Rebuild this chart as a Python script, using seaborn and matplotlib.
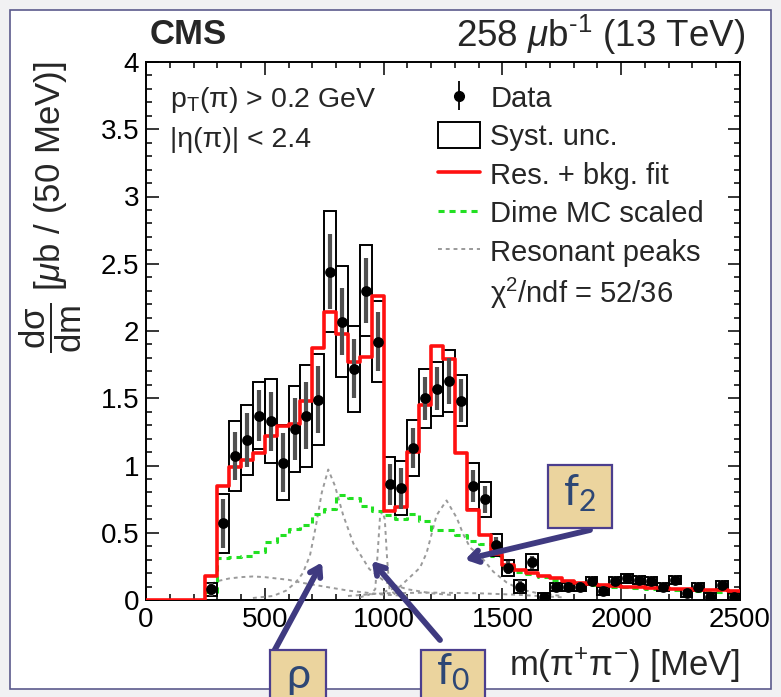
import numpy as np
import matplotlib
matplotlib.use("Agg")
import matplotlib.pyplot as plt
from matplotlib.patches import Rectangle, Patch
from matplotlib.lines import Line2D
import seaborn as sns

# ---- binning: 50 MeV bins from 250 to 2500 MeV ----
bin_low = 250
bin_width = 50
bin_high = 2500

# measured cross section per bin [ub / 50 MeV]
data_xsec = [0.08, 0.57, 1.07, 1.19, 1.37, 1.33, 1.02, 1.27, 1.37, 1.49,
             2.44, 2.07, 1.72, 2.30, 1.92, 0.86, 0.83, 1.13, 1.50, 1.57,
             1.63, 1.48, 0.85, 0.75, 0.41, 0.24, 0.10, 0.28, 0.02, 0.10,
             0.10, 0.10, 0.14, 0.07, 0.14, 0.16, 0.15, 0.14, 0.10, 0.15,
             0.05, 0.10, 0.02, 0.11, 0.02]
stat_err = [0.05, 0.18, 0.18, 0.20, 0.19, 0.22, 0.22, 0.23, 0.25, 0.25,
            0.28, 0.25, 0.22, 0.24, 0.22, 0.15, 0.15, 0.15, 0.16, 0.16,
            0.17, 0.16, 0.12, 0.10, 0.06, 0.05, 0.05, 0.05, 0.035, 0.035,
            0.035, 0.035, 0.035, 0.035, 0.035, 0.035, 0.035, 0.035, 0.035, 0.035,
            0.035, 0.035, 0.035, 0.035, 0.035]
syst_err = [0.05, 0.22, 0.26, 0.26, 0.25, 0.31, 0.28, 0.32, 0.38, 0.34,
            0.45, 0.41, 0.32, 0.34, 0.30, 0.20, 0.20, 0.21, 0.22, 0.20,
            0.23, 0.19, 0.17, 0.13, 0.08, 0.06, 0.05, 0.06, 0.03, 0.03,
            0.03, 0.03, 0.03, 0.03, 0.03, 0.03, 0.03, 0.03, 0.03, 0.03,
            0.03, 0.03, 0.03, 0.03, 0.03]

# resonances + background fit, per bin
fit_xsec = [0.18, 0.85, 0.99, 1.04, 1.09, 1.22, 1.29, 1.31, 1.48, 1.87,
            2.14, 1.98, 1.77, 1.81, 2.26, 0.66, 0.69, 1.10, 1.45, 1.89,
            1.79, 1.09, 0.67, 0.48, 0.34, 0.26, 0.22, 0.20, 0.18, 0.16,
            0.14, 0.13, 0.12, 0.11, 0.105, 0.10, 0.095, 0.09, 0.087, 0.084,
            0.08, 0.077, 0.074, 0.072, 0.07]

# Dime MC prediction (scaled), per bin
dime_xsec = [0.06, 0.31, 0.32, 0.33, 0.36, 0.43, 0.48, 0.53, 0.56, 0.64,
             0.68, 0.78, 0.76, 0.70, 0.66, 0.63, 0.60, 0.64, 0.59, 0.52,
             0.52, 0.48, 0.44, 0.42, 0.33, 0.25, 0.21, 0.19, 0.17, 0.15,
             0.14, 0.125, 0.115, 0.105, 0.10, 0.095, 0.09, 0.085, 0.08, 0.075,
             0.07, 0.066, 0.062, 0.058, 0.055]

# individual resonant line shapes
f0_500_mass = [275, 300, 350, 400, 450, 500, 550, 600, 650, 700, 750, 800, 850, 900, 950, 1000, 1050, 1100]
f0_500_xsec = [0.12, 0.14, 0.16, 0.17, 0.175, 0.17, 0.16, 0.15, 0.13, 0.115, 0.10, 0.085, 0.07, 0.06, 0.05, 0.04, 0.035, 0.03]
rho_mass = [450, 535, 590, 630, 660, 690, 715, 740, 767, 795, 830, 873, 940, 1010, 1100, 1200, 1300]
rho_xsec = [0.015, 0.03, 0.07, 0.13, 0.20, 0.33, 0.55, 0.80, 0.97, 0.85, 0.63, 0.42, 0.23, 0.13, 0.08, 0.05, 0.035]
f0_980_mass = [900, 940, 965, 975, 985, 995, 1005, 1015, 1025, 1050, 1100]
f0_980_xsec = [0.02, 0.04, 0.08, 0.35, 0.62, 0.66, 0.60, 0.30, 0.08, 0.04, 0.02]
f2_mass = [1000, 1069, 1111, 1153, 1181, 1202, 1223, 1265, 1308, 1335, 1364, 1406, 1462, 1518, 1574, 1650, 1750]
f2_xsec = [0.06, 0.10, 0.17, 0.24, 0.35, 0.49, 0.63, 0.74, 0.61, 0.49, 0.39, 0.33, 0.21, 0.13, 0.08, 0.05, 0.03]
f0_high_mass = [850, 1000, 1200, 1400, 1550, 1650, 1750]
f0_high_xsec = [0.03, 0.05, 0.055, 0.05, 0.04, 0.03, 0.02]

x_ticks = [0, 500, 1000, 1500, 2000, 2500]
x_ticklabels = ["0", "500", "1000", "1500", "2000", "2500"]
y_ticks = [0, 0.5, 1, 1.5, 2, 2.5, 3, 3.5, 4]
y_ticklabels = ["0", "0.5", "1", "1.5", "2", "2.5", "3", "3.5", "4"]

# ---- style ----
sns.set_theme(style="ticks")
plt.rcParams["font.family"] = ["Liberation Sans", "DejaVu Sans"]
plt.rcParams["mathtext.fontset"] = "custom"
plt.rcParams["mathtext.rm"] = "Liberation Sans"
plt.rcParams["mathtext.it"] = "Liberation Sans:italic"
plt.rcParams["mathtext.bf"] = "Liberation Sans:bold"

RED = "#ff1010"
GREEN = "#22e022"
GREY = "#9a9a9a"
NAVY = "#3f3a80"
TAN = "#ebd49e"

W, H = 781, 697
fig = plt.figure(figsize=(W / 100, H / 100), dpi=100)
fig.patch.set_facecolor("#f1f1f3")
fig.add_artist(Rectangle((10 / W, 8 / H), 761 / W, 679 / H, transform=fig.transFigure,
                         facecolor="white", edgecolor="#5b5a8c", lw=1.2, zorder=0))

ax = fig.add_axes([146 / W, 1 - 600 / H, 594 / W, 538 / H])
ax.set_facecolor("none")

edges = np.arange(bin_low, bin_high + bin_width, bin_width)
centers = edges[:-1] + bin_width / 2
data = np.array(data_xsec)
stat = np.array(stat_err)
syst = np.array(syst_err)

# systematic uncertainty boxes
for c, v, s in zip(centers, data, syst):
    ax.add_patch(Rectangle((c - bin_width / 2, v - s), bin_width, 2 * s, fill=False,
                           edgecolor="black", lw=1.4, zorder=3))

# resonant peaks
for m, xs in [(f0_500_mass, f0_500_xsec), (rho_mass, rho_xsec), (f0_980_mass, f0_980_xsec),
              (f2_mass, f2_xsec), (f0_high_mass, f0_high_xsec)]:
    sns.lineplot(x=m, y=xs, ax=ax, color=GREY, lw=1.4, linestyle=(0, (2, 2)),
                 estimator=None, sort=False, zorder=2)

# Dime MC histogram
sns.lineplot(x=edges, y=list(dime_xsec) + [dime_xsec[-1]], ax=ax, color=GREEN, lw=2.2,
             linestyle=(0, (2, 1.6)), drawstyle="steps-post", estimator=None, zorder=2)

# fit histogram (zero below threshold)
fit_x = np.concatenate([[0], edges])
fit_y = [0] + list(fit_xsec) + [fit_xsec[-1]]
sns.lineplot(x=fit_x, y=fit_y, ax=ax, color=RED, lw=2.6, drawstyle="steps-post",
             estimator=None, zorder=4)

# data with statistical errors
ax.errorbar(centers, data, yerr=stat, fmt="none", ecolor="#505050", elinewidth=3,
            capsize=0, zorder=5)
sns.scatterplot(x=centers, y=data, ax=ax, color="black", s=60, edgecolor="black",
                linewidth=0, zorder=6)

# axes
ax.set_xlim(0, 2500)
ax.set_ylim(0, 4)
ax.set_xticks(x_ticks)
ax.set_xticklabels(x_ticklabels)
ax.set_yticks(y_ticks)
ax.set_yticklabels(y_ticklabels)
ax.set_xticks(np.arange(0, 2501, 100), minor=True)
ax.set_yticks(np.arange(0, 4.01, 0.1), minor=True)
ax.tick_params(which="both", direction="in", top=True, right=True, width=1.1,
               colors="black", labelsize=20, pad=5)
ax.tick_params(which="major", length=9)
ax.tick_params(which="minor", length=4.5)
for sp in ax.spines.values():
    sp.set_linewidth(1.4)
    sp.set_color("black")

ax.set_xlabel(r"m($\mathrm{\pi^{+}\pi^{-}}$) [MeV]", loc="right", fontsize=25, labelpad=10)
ax.set_ylabel(r"$\mathrm{\dfrac{d\sigma}{dm}}$ [$\mu$b / (50 MeV)]", loc="top", fontsize=25,
              labelpad=12)

ax.text(0.04, 0.929, r"p$_{\mathrm{T}}$(π) > 0.2 GeV", transform=ax.transAxes,
        fontsize=20.5, va="center", ha="left")
ax.text(0.04, 0.855, "|η(π)| < 2.4", transform=ax.transAxes,
        fontsize=20.5, va="center", ha="left")

# legend
data_handle = ax.errorbar([np.nan], [np.nan], yerr=[0.1], fmt="o", color="black",
                          ms=7, elinewidth=1.3, capsize=0)
handles = [data_handle,
           Patch(facecolor="white", edgecolor="black", lw=1.4),
           Line2D([], [], color=RED, lw=2.6),
           Line2D([], [], color=GREEN, lw=2.2, linestyle=(0, (2, 1.6))),
           Line2D([], [], color=GREY, lw=1.4, linestyle=(0, (2, 2))),
           Line2D([], [], alpha=0)]
labels = ["Data", "Syst. unc.", "Res. + bkg. fit", "Dime MC scaled", "Resonant peaks",
          r"χ$^{2}$/ndf = 52/36"]
ax.legend(handles, labels, loc="upper left", bbox_to_anchor=(438 / W, 1 - 84 / H),
          bbox_transform=fig.transFigure, frameon=False, fontsize=21,
          handlelength=1.45, handleheight=1.0, handletextpad=0.35,
          labelspacing=0.32, borderpad=0, borderaxespad=0)

# header
fig.text(150 / W, 1 - 35 / H, "CMS", fontsize=25, fontweight="bold", va="center", ha="left")
fig.text(745 / W, 1 - 35 / H, r"258 $\mu$b$^{\text{-1}}$ (13 TeV)", fontsize=26.5,
         va="center", ha="right")

# resonance callouts
def callout(x0, y0, x1, y1, label, text_y, head_xy, tail_px):
    fig.add_artist(Rectangle((x0 / W, 1 - y1 / H), (x1 - x0) / W, (y1 - y0) / H,
                             transform=fig.transFigure, facecolor=TAN,
                             edgecolor="#4b3e8e", lw=1.6, zorder=10, clip_on=False))
    fig.text((x0 + x1) / 2 / W, 1 - text_y / H, label, fontsize=31, color="#2d4775",
             ha="center", va="center", family="Lato", zorder=11)
    ax.annotate("", xy=head_xy, xycoords="data", xytext=tail_px, textcoords="figure pixels",
                arrowprops=dict(arrowstyle="->,head_length=0.55,head_width=0.35", lw=4.2,
                                color=NAVY, shrinkA=0, shrinkB=0),
                annotation_clip=False, zorder=12)

callout(270, 650, 326, 700, "ρ", 676, (741, 0.28), (272, H - 655))
callout(421, 650, 485, 700, r"$\mathregular{f_0}$", 672, (951, 0.29), (440, H - 640))
callout(548, 465, 612, 528, r"$\mathregular{f_2}$", 493, (1343, 0.30), (590, H - 530))

fig.savefig("out.png", dpi=100, facecolor=fig.get_facecolor())
